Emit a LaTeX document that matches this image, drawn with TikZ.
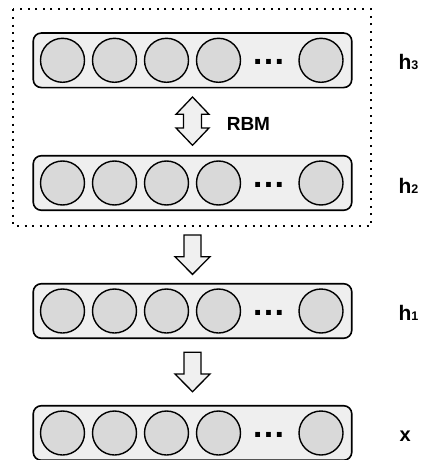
\documentclass[tikz,border=0pt]{standalone}
\usepackage{fontspec}
\setmainfont{Liberation Sans}
\definecolor{layerfill}{HTML}{EFEFEF}
\definecolor{unitfill}{HTML}{D9D9D9}
\definecolor{arrowfill}{HTML}{F0F0F0}
\begin{document}
\begin{tikzpicture}[x={(1pt,0pt)}, y={(0pt,-1pt)},
  layer/.style={draw, line width=1.6pt, rounded corners=8pt, fill=layerfill,
    minimum width=318.5pt, minimum height=54.5pt, inner sep=0pt},
  unit/.style={circle, draw, line width=1.4pt, fill=unitfill,
    minimum size=44pt, inner sep=0pt},
  ellip/.style={inner sep=0pt, font=\bfseries\fontsize{34}{34}\selectfont},
  lbl/.style={inner sep=0pt, font=\bfseries},
  blockarrow/.style={draw, line width=1.3pt, fill=arrowfill, line join=miter},
  frame/.style={draw, line width=2pt, dash pattern=on 2pt off 5.6pt}]
  \useasboundingbox (0,0) rectangle (427,460);

  % dotted frame around the RBM pair
  \draw[frame] (13,9.5) rectangle (371,226);

  % layers of units
  \foreach \name/\yc/\sub in {h3/60.3/3, h2/183/2, h1/311/1, x/433/} {
    \node[layer] (\name) at (192.5,\yc) {};
    \foreach \i/\cx in {1/62.5, 2/114.5, 3/166.5, 4/218.5, 5/321} {
      \node[unit] (\name-u\i) at (\cx,\yc) {};
    }
    \node[ellip, anchor=base] (\name-dots) at (268.5,\yc+4) {…};
  }

  % layer names
  \node[lbl, anchor=base west] (lbl-h3) at (398.3,70)
    {{\fontsize{21}{21}\selectfont h}{\fontsize{12.5}{12.5}\selectfont 3}};
  \node[lbl, anchor=base west] (lbl-h2) at (398.3,193)
    {{\fontsize{21}{21}\selectfont h}{\fontsize{12.5}{12.5}\selectfont 2}};
  \node[lbl, anchor=base west] (lbl-h1) at (398.3,320.5)
    {{\fontsize{21}{21}\selectfont h}{\fontsize{12.5}{12.5}\selectfont 1}};
  \node[lbl, anchor=base west] (lbl-x) at (399.3,441.7)
    {{\fontsize{20}{20}\selectfont x}};

  % bidirectional RBM arrow between h3 and h2
  \draw[blockarrow] (192.5,97) -- (209,114.3) -- (201.5,114.3) -- (201.5,128)
    -- (209,128) -- (192.5,145.3) -- (176,128) -- (183.5,128) -- (183.5,114.3)
    -- (176,114.3) -- cycle;
  \node[lbl, anchor=base west, font=\bfseries\fontsize{19}{19}\selectfont]
    (rbm) at (226.6,130.7) {RBM};

  % downward arrows h2 -> h1 -> x
  \foreach \top/\nm in {235/a21, 352.3/a1x} {
    \coordinate (\nm) at (192.5,\top);
    \draw[blockarrow] (\nm) ++(-8.5,0) -- ++(17,0) -- ++(0,21.7) -- ++(9,0)
      -- ++(-17.5,17.7) -- ++(-17.5,-17.7) -- ++(9,0) -- cycle;
  }
\end{tikzpicture}
\end{document}
